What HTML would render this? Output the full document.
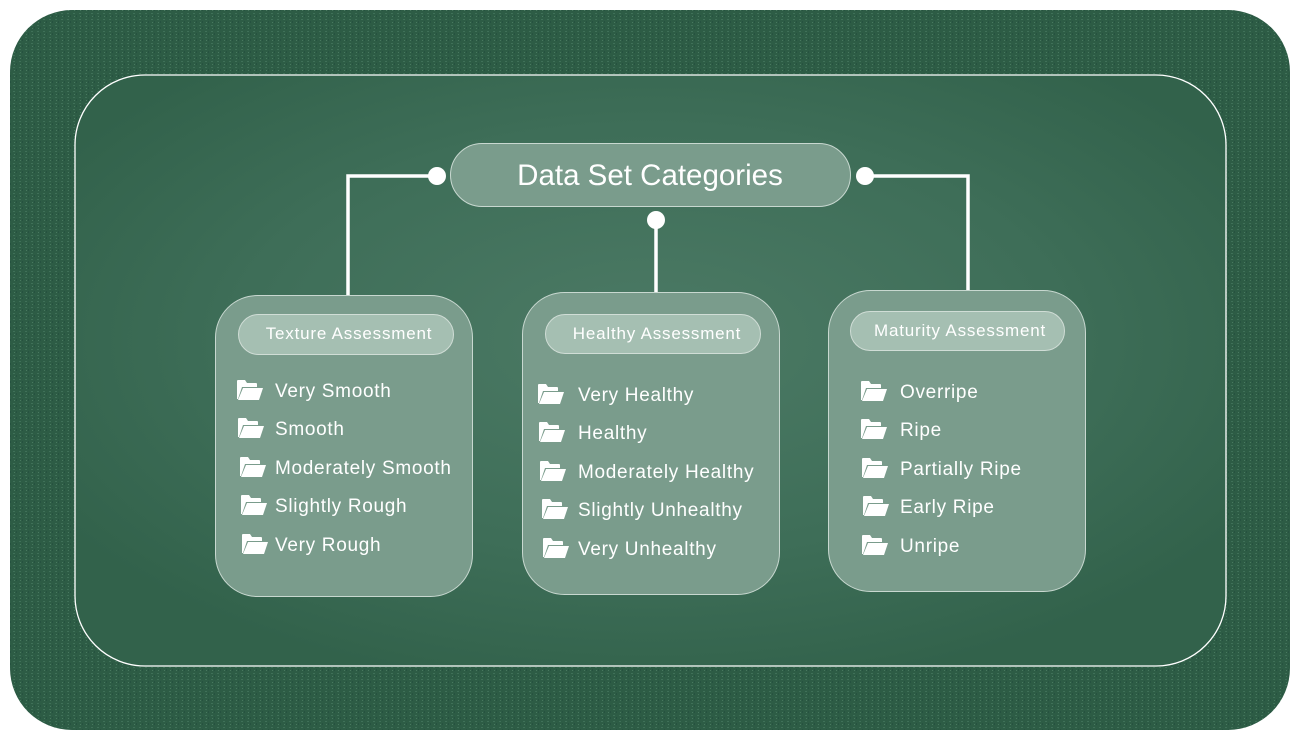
<!DOCTYPE html>
<html><head><meta charset="utf-8"><style>
html,body{margin:0;padding:0;background:#fff;width:1300px;height:740px;overflow:hidden}
svg{display:block}
text{font-family:"Liberation Sans",sans-serif;fill:#fff}
</style></head><body>
<svg width="1300" height="740" viewBox="0 0 1300 740">
<defs>
<radialGradient id="pg" cx="0.5" cy="0.45" r="0.6">
<stop offset="0" stop-color="#4c7a65"/><stop offset="0.6" stop-color="#3e6e58"/><stop offset="1" stop-color="#32624b"/>
</radialGradient>
<pattern id="noise" width="6" height="6" patternUnits="userSpaceOnUse">
<rect width="6" height="6" fill="#2d5c45"/>
<rect x="1" y="1" width="2" height="1" fill="#3f7058"/><rect x="4" y="3" width="1" height="2" fill="#265240"/><rect x="2" y="4" width="1" height="1" fill="#48795f"/>
</pattern>
<path id="fold" d="M0 1 Q0 0 1 0 L8 0 L10 3 L19 3 Q20 3 20 4 L20 7 L5 7 L1 19 L0 19 Z M6 8 L26 8 L22 20 L1 20 Z" fill="#fff"/>
</defs>
<rect x="10" y="10" width="1280" height="720" rx="62" fill="url(#noise)"/>
<rect x="75" y="75" width="1151" height="591" rx="70" fill="url(#pg)" stroke="#fff" stroke-width="1.3"/>

<g stroke="#fff" stroke-width="3.5" fill="none">
<polyline points="437,176 348,176 348,316"/>
<line x1="656" y1="220" x2="656" y2="316"/>
<polyline points="865,176 968,176 968,316"/>
</g>
<g fill="#fff"><circle cx="437" cy="176" r="9"/><circle cx="656" cy="220" r="9"/><circle cx="865" cy="176" r="9"/></g>

<rect x="450.5" y="143.5" width="400" height="63" rx="31.5" fill="#7a9c8c" stroke="#c8d8d0" stroke-width="1"/>
<text x="650" y="185" font-size="29.5" text-anchor="middle">Data Set Categories</text>

<g fill="#7a9c8c" stroke="#c8d8d0" stroke-width="1">
<rect x="215.5" y="295.5" width="257" height="301" rx="42"/>
<rect x="522.5" y="292.5" width="257" height="302" rx="42"/>
<rect x="828.5" y="290.5" width="257" height="301" rx="42"/>
</g>
<g fill="#a5bfb2" stroke="#d0ddd6" stroke-width="1">
<rect x="238.5" y="314.5" width="215" height="40" rx="20"/>
<rect x="545.5" y="314.5" width="215" height="39" rx="19.5"/>
<rect x="850.5" y="311.5" width="214" height="39" rx="19.5"/>
</g>
<g font-size="17" text-anchor="middle" letter-spacing="0.8">
<text x="349" y="339">Texture Assessment</text>
<text x="657" y="339">Healthy Assessment</text>
<text x="960" y="336">Maturity Assessment</text>
</g>

<g font-size="19" letter-spacing="0.7">
<use href="#fold" x="237" y="380"/><text x="275" y="397">Very Smooth</text>
<use href="#fold" x="238" y="418"/><text x="275" y="435">Smooth</text>
<use href="#fold" x="240" y="457"/><text x="275" y="474">Moderately Smooth</text>
<use href="#fold" x="241" y="495"/><text x="275" y="512">Slightly Rough</text>
<use href="#fold" x="242" y="534"/><text x="275" y="551">Very Rough</text>

<use href="#fold" x="538" y="384"/><text x="578" y="401">Very Healthy</text>
<use href="#fold" x="539" y="422"/><text x="578" y="439">Healthy</text>
<use href="#fold" x="540" y="461"/><text x="578" y="478">Moderately Healthy</text>
<use href="#fold" x="542" y="499"/><text x="578" y="516">Slightly Unhealthy</text>
<use href="#fold" x="543" y="538"/><text x="578" y="555">Very Unhealthy</text>

<use href="#fold" x="861" y="381"/><text x="900" y="398">Overripe</text>
<use href="#fold" x="861" y="419"/><text x="900" y="436">Ripe</text>
<use href="#fold" x="862" y="458"/><text x="900" y="475">Partially Ripe</text>
<use href="#fold" x="863" y="496"/><text x="900" y="513">Early Ripe</text>
<use href="#fold" x="862" y="535"/><text x="900" y="552">Unripe</text>
</g>
</svg>
</body></html>
